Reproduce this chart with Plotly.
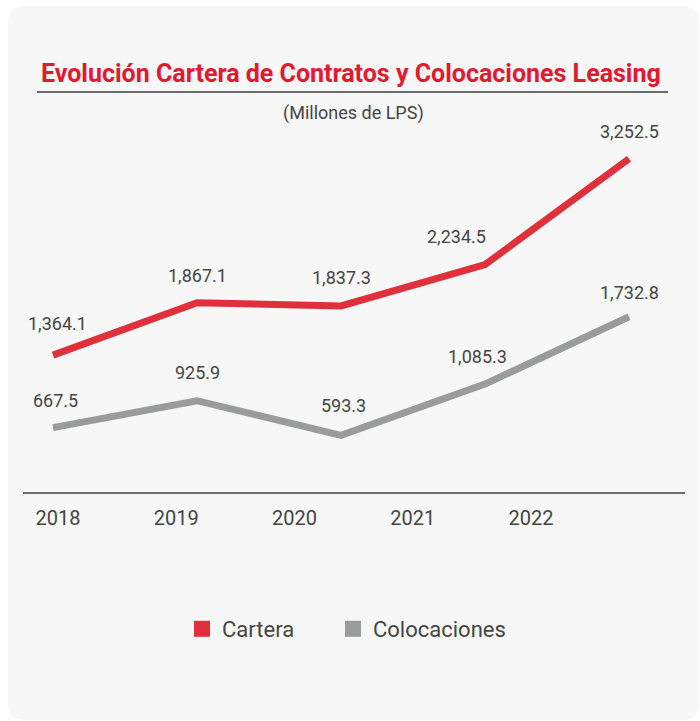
import plotly.graph_objects as go

years = ["2018", "2019", "2020", "2021", "2022"]
cartera = [1364.1, 1867.1, 1837.3, 2234.5, 3252.5]
colocaciones = [667.5, 925.9, 593.3, 1085.3, 1732.8]
cartera_labels = ["1,364.1", "1,867.1", "1,837.3", "2,234.5", "3,252.5"]
colocaciones_labels = ["667.5", "925.9", "593.3", "1,085.3", "1,732.8"]

RED = "#e0303b"
GRAY = "#9a9c9c"
TXT = "#454545"
FONT = "Roboto"
W, H = 700, 721


def px(x):
    return x / W


def py(y):
    return 1 - y / H


idx = list(range(len(years)))

fig = go.Figure()
fig.add_trace(go.Scatter(x=idx, y=cartera, mode="lines", line=dict(color=RED, width=7),
                         showlegend=False, hoverinfo="skip"))
fig.add_trace(go.Scatter(x=idx, y=colocaciones, mode="lines", line=dict(color=GRAY, width=7),
                         showlegend=False, hoverinfo="skip"))
# legend entries
fig.add_trace(go.Scatter(x=[None], y=[None], mode="markers", name="Cartera", legend="legend",
                         marker=dict(symbol="square", size=18, color=RED)))
fig.add_trace(go.Scatter(x=[None], y=[None], mode="markers", name="Colocaciones", legend="legend2",
                         marker=dict(symbol="square", size=18, color=GRAY)))
# year axis carrier
fig.add_trace(go.Scatter(x=idx, y=[None] * len(idx), xaxis="x2", mode="markers",
                         showlegend=False, hoverinfo="skip"))

annotations = []
c_shift = [4, 0, 0, -29, 0]
c_yshift = [32, 27, 28, 28, 27]
k_shift = [2, 0, 2, -8, 0]
k_yshift = [27, 28, 30, 28, 24]
for i in idx:
    annotations.append(dict(x=i, y=cartera[i], xref="x", yref="y", text=cartera_labels[i],
                            showarrow=False, yshift=c_yshift[i], xshift=c_shift[i],
                            font=dict(family=FONT, size=18, color=TXT)))
    annotations.append(dict(x=i, y=colocaciones[i], xref="x", yref="y", text=colocaciones_labels[i],
                            showarrow=False, yshift=k_yshift[i], xshift=k_shift[i],
                            font=dict(family=FONT, size=18, color=TXT)))

annotations.append(dict(x=px(351), y=py(74), xref="paper", yref="paper", yanchor="middle",
                        text="<b>Evolución Cartera de Contratos y Colocaciones Leasing</b>",
                        showarrow=False, font=dict(family=FONT, size=25, color="#e3192e")))
annotations.append(dict(x=px(353), y=py(113), xref="paper", yref="paper", yanchor="middle",
                        text="(Millones de LPS)", showarrow=False,
                        font=dict(family=FONT, size=18, color=TXT)))

# rounded background panel
x0, x1, y0, y1, r = px(8), px(699), py(6), py(720), 16
rx, ry = r / W, r / H
panel = (f"M {x0+rx},{y0} L {x1-rx},{y0} Q {x1},{y0} {x1},{y0-ry} "
         f"L {x1},{y1+ry} Q {x1},{y1} {x1-rx},{y1} L {x0+rx},{y1} Q {x0},{y1} {x0},{y1+ry} "
         f"L {x0},{y0-ry} Q {x0},{y0} {x0+rx},{y0} Z")
shapes = [
    dict(type="path", path=panel, xref="paper", yref="paper", fillcolor="#f7f7f7",
         line=dict(width=0), layer="below"),
    dict(type="line", x0=px(37), x1=px(668), y0=py(92), y1=py(92), xref="paper", yref="paper",
         line=dict(color="#6a6a6a", width=2)),
]

legend_style = dict(orientation="h", xanchor="left", yanchor="middle",
                    font=dict(family=FONT, size=22, color=TXT), bgcolor="rgba(0,0,0,0)",
                    itemclick=False, itemdoubleclick=False)

fig.update_layout(
    width=W, height=H,
    margin=dict(l=0, r=0, t=0, b=0),
    paper_bgcolor="white",
    plot_bgcolor="rgba(0,0,0,0)",
    showlegend=True,
    legend=dict(x=px(182), y=py(629), **legend_style),
    legend2=dict(x=px(333), y=py(629), **legend_style),
    xaxis=dict(domain=[px(23), px(685)], range=[(23 - 53) / 144, (685 - 53) / 144],
               showgrid=False, zeroline=False, showticklabels=False, ticks="",
               showline=True, linecolor="#6d6d6d", linewidth=2, fixedrange=True),
    xaxis2=dict(domain=[px(23), px(685)], range=[(23 - 58) / 118.25, (685 - 58) / 118.25],
                overlaying="x", anchor="y", side="bottom", showgrid=False, zeroline=False,
                showline=False, tickvals=idx, ticktext=years, ticks="",
                ticklabelstandoff=12,
                tickfont=dict(family=FONT, size=20, color=TXT), fixedrange=True),
    yaxis=dict(domain=[py(492), py(100)], range=[(497 - 492) / 0.104, (497 - 100) / 0.104],
               visible=False, fixedrange=True),
    annotations=annotations,
    shapes=shapes,
    font=dict(family=FONT),
)

fig.write_html("out.html", config={"displayModeBar": False},
               post_script="document.body.style.margin='0';")
